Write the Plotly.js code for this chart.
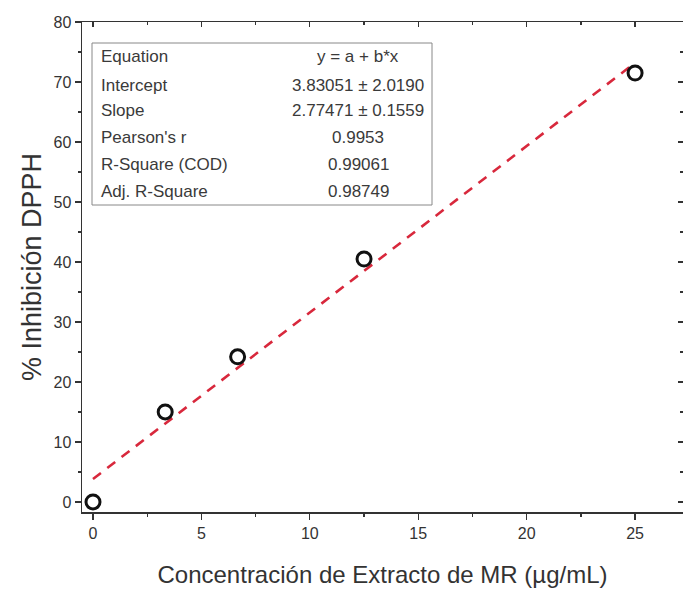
<!DOCTYPE html>
<html>
<head>
<meta charset="utf-8">
<script src="https://cdn.plot.ly/plotly-3.0.1.min.js"></script>
<style>html,body{margin:0;padding:0;background:#fff;}</style>
</head>
<body>
<div id="chart" style="width:683px;height:590px;"></div>
<script>
// Data
const concX = [0, 3.33, 6.67, 12.5, 25];
const inhibY = [0, 15.0, 24.2, 40.5, 71.5];
// Linear fit endpoints (y = 3.83051 + 2.77471 x)
const fitX = [0, 25];
const fitY = [3.83, 73.20];
// Fit statistics table
const tableLabels = ["Equation", "Intercept", "Slope", "Pearson's r", "R-Square (COD)", "Adj. R-Square"];
const tableValues = ["y = a + b*x", "3.83051 ± 2.0190", "2.77471 ± 0.1559", "0.9953", "0.99061", "0.98749"];
const xTicks = [0, 5, 10, 15, 20, 25];
const yTicks = [0, 10, 20, 30, 40, 50, 60, 70, 80];

const W = 683, H = 590, L = 82, R = 0, T = 22, B = 78;
const pw = W - L - R, ph = H - T - B;
const px = v => (v - L) / pw;
const py = v => (H - B - v) / ph;

const xr = [-0.507, 27.21];
const yr = [-1.67, 80];
const font = "Liberation Sans, Arial, sans-serif";
const axCol = "#333";

const traces = [
  {x: fitX, y: fitY, mode: "lines", line: {color: "#d8283c", width: 2.6, dash: "10px,8px"}, hoverinfo: "skip"},
  {x: concX, y: inhibY, mode: "markers", marker: {symbol: "circle-open", size: 14, color: "#111", line: {width: 3, color: "#111"}}},
  {x: [xr[0]], y: [yr[0]], xaxis: "x2", yaxis: "y2", mode: "markers", marker: {opacity: 0}, hoverinfo: "skip"}
];

const ann = [];
const rowPix = [57, 85, 111, 138, 164, 191];
tableLabels.forEach((t, i) => {
  ann.push({xref: "paper", yref: "paper", x: px(99), y: py(rowPix[i]), xanchor: "left", yanchor: "middle", text: t, showarrow: false, font: {family: font, size: 17, color: "#3a3a3a"}});
  ann.push({xref: "paper", yref: "paper", x: px(358), y: py(rowPix[i]), xanchor: "center", yanchor: "middle", text: tableValues[i], showarrow: false, font: {family: font, size: 17, color: "#3a3a3a"}});
});

const layout = {
  width: W, height: H,
  margin: {l: L, r: R, t: T, b: B},
  paper_bgcolor: "#fff", plot_bgcolor: "#fff",
  showlegend: false,
  font: {family: font, color: axCol},
  xaxis: {
    range: xr, tickvals: xTicks, ticks: "outside", ticklen: 6, tickwidth: 1.3, tickcolor: axCol,
    minor: {dtick: 2.5, tick0: 0, ticks: "outside", ticklen: 3, tickwidth: 1.3, tickcolor: axCol},
    showline: true, linecolor: axCol, linewidth: 1.5, showgrid: false, zeroline: false,
    tickfont: {size: 16, color: axCol, family: font},
    title: {text: "Concentración de Extracto de MR (µg/mL)", font: {size: 24, color: "#333", family: font}, standoff: 25}
  },
  yaxis: {
    range: yr, tickvals: yTicks, ticks: "outside", ticklen: 6, tickwidth: 1.3, tickcolor: axCol,
    minor: {dtick: 5, tick0: 0, ticks: "outside", ticklen: 3, tickwidth: 1.3, tickcolor: axCol},
    showline: true, linecolor: axCol, linewidth: 1.5, showgrid: false, zeroline: false,
    tickfont: {size: 16, color: axCol, family: font},
    title: {text: "% Inhibición DPPH", font: {size: 27, color: "#333", family: font}, standoff: 4}
  },
  xaxis2: {
    overlaying: "x", side: "top", range: xr, tickvals: xTicks, showticklabels: false,
    ticks: "inside", ticklen: 5, tickwidth: 1.3, tickcolor: axCol,
    minor: {dtick: 2.5, tick0: 0, ticks: "inside", ticklen: 3, tickwidth: 1.3, tickcolor: axCol},
    showline: true, linecolor: axCol, linewidth: 1.5, showgrid: false, zeroline: false
  },
  yaxis2: {
    overlaying: "y", side: "right", range: yr, tickvals: yTicks, showticklabels: false,
    ticks: "inside", ticklen: 5, tickwidth: 1.3, tickcolor: axCol,
    minor: {dtick: 5, tick0: 0, ticks: "inside", ticklen: 3, tickwidth: 1.3, tickcolor: axCol},
    showline: false, showgrid: false, zeroline: false
  },
  shapes: [
    {type: "rect", xref: "paper", yref: "paper", x0: px(92), x1: px(432), y0: py(205), y1: py(43), line: {color: "#888", width: 1}, fillcolor: "rgba(255,255,255,0)", layer: "above"}
  ],
  annotations: ann
};

Plotly.newPlot("chart", traces, layout, {displayModeBar: false, staticPlot: true});
</script>
</body>
</html>
